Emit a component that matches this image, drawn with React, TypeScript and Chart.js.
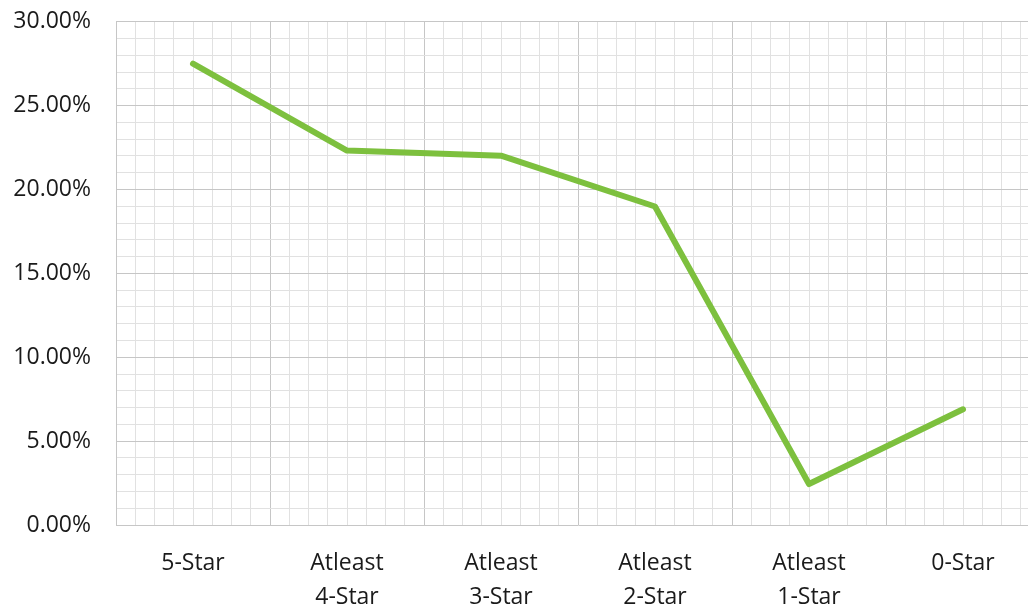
import { useEffect, useRef } from 'react';
import { Chart, registerables } from 'chart.js';

Chart.register(...registerables);

const categories: (string | string[])[] = [
  '5-Star',
  ['Atleast', '4-Star'],
  ['Atleast', '3-Star'],
  ['Atleast', '2-Star'],
  ['Atleast', '1-Star'],
  '0-Star',
];
const shareValues = [0.275, 0.2232, 0.2202, 0.1899, 0.0244, 0.069];
const yMin = 0;
const yMax = 0.3;
const yMinorStep = 0.01;
const minorPerCategory = 8;

const FONT = '"Open Sans", "Noto Sans", sans-serif';
const MAJOR = '#c6c6c6';
const MINOR = '#e1e1e1';

export default function App() {
  const ref = useRef<HTMLCanvasElement | null>(null);

  useEffect(() => {
    if (!ref.current) return;
    const chart = new Chart(ref.current, {
      type: 'line',
      data: {
        labels: categories,
        datasets: [
          {
            data: shareValues,
            borderColor: '#7dc03e',
            borderWidth: 6,
            pointRadius: 0,
            tension: 0,
            borderJoinStyle: 'round',
            borderCapStyle: 'round',
            fill: false,
          },
        ],
      },
      options: {
        animation: false,
        responsive: false,
        maintainAspectRatio: false,
        layout: { padding: { top: 4, right: 10, left: 0, bottom: 0 } },
        plugins: { legend: { display: false }, tooltip: { enabled: false } },
        scales: {
          x: {
            type: 'category',
            offset: true,
            grid: { display: false, drawTicks: false },
            border: { display: false },
            ticks: {
              color: '#1a1a1a',
              font: { family: FONT, size: 23, lineHeight: 1.48 },
              padding: 21,
              maxRotation: 0,
              autoSkip: false,
            },
            afterFit: (s: any) => {
              s.height = 83;
            },
          },
          xMinor: {
            type: 'linear',
            position: 'top',
            min: 0,
            max: categories.length * minorPerCategory,
            ticks: { display: false, stepSize: 1, autoSkip: false },
            grid: {
              drawTicks: false,
              color: (ctx: any) =>
                Math.round(ctx.tick.value) % minorPerCategory === 0 ? MAJOR : MINOR,
              lineWidth: 1,
            },
            border: { display: false },
            afterFit: (s: any) => {
              s.height = 0;
            },
          },
          y: {
            type: 'linear',
            min: yMin,
            max: yMax,
            ticks: {
              stepSize: yMinorStep,
              autoSkip: false,
              color: '#1a1a1a',
              font: { family: FONT, size: 23 },
              padding: 25,
              callback: (v: any) => {
                const p = Math.round(Number(v) * 100);
                return p % 5 === 0 ? (Number(v) * 100).toFixed(2) + '%' : '';
              },
            },
            grid: {
              drawTicks: false,
              color: (ctx: any) =>
                Math.round(ctx.tick.value * 100) % 5 === 0 ? MAJOR : MINOR,
              lineWidth: 1,
            },
            border: { display: true, color: MAJOR },
            afterFit: (s: any) => {
              s.width = 116;
            },
          },
        },
      },
    });
    return () => chart.destroy();
  }, []);

  return (
    <div
      style={{
        position: 'fixed',
        left: 0,
        top: 0,
        width: 1028,
        height: 608,
        overflow: 'hidden',
        background: '#ffffff',
      }}
    >
      <canvas
        ref={ref}
        width={1050}
        height={625}
        style={{ display: 'block', marginTop: -17 }}
      />
    </div>
  );
}
